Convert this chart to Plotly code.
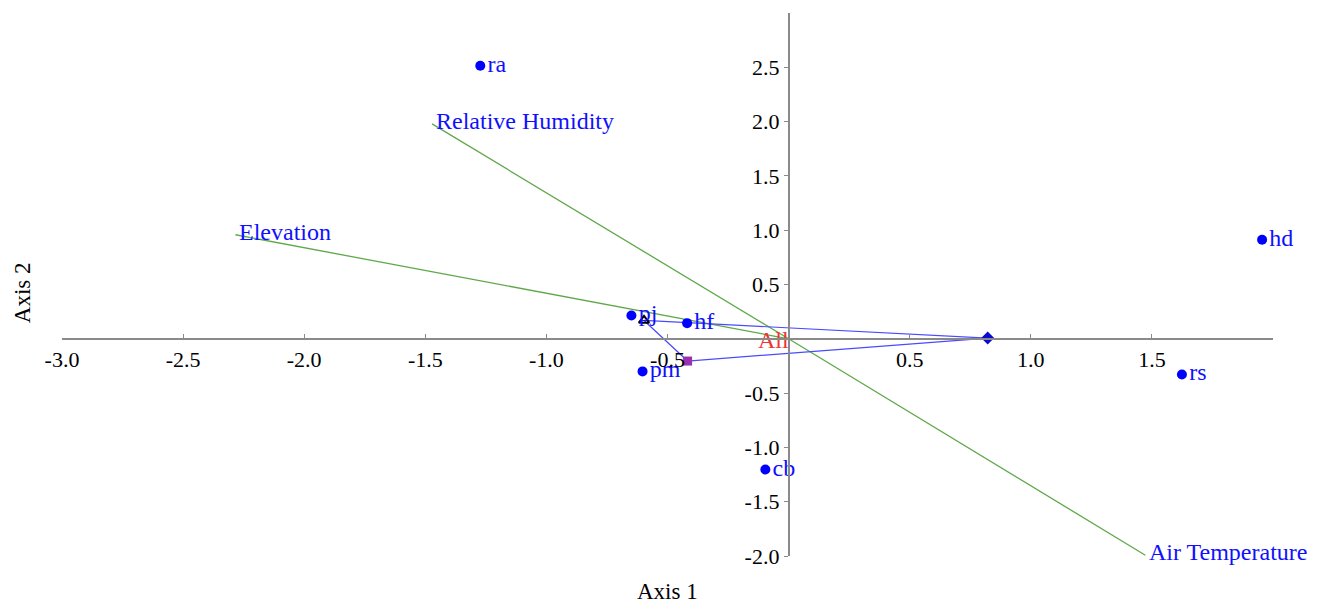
import plotly.graph_objects as go

# ---- data ----
sites = ["ra", "hd", "rs", "cb", "pm", "pj", "hf"]
site_x = [-1.273, 1.955, 1.624, -0.096, -0.603, -0.649, -0.419]
site_y = [2.515, 0.912, -0.328, -1.204, -0.300, 0.215, 0.144]

env_vars = ["Relative Humidity", "Elevation", "Air Temperature"]
env_x = [-1.472, -2.284, 1.473]
env_y = [1.979, 0.958, -1.993]

# group centroids (triangle, square, diamond)
grp_x = [-0.597, -0.417, 0.822]
grp_y = [0.169, -0.205, 0.007]

all_label = "All"
all_x = [-0.063]
all_y = [-0.03]

x_ticks = [-3.0, -2.5, -2.0, -1.5, -1.0, -0.5, 0.5, 1.0, 1.5]
y_ticks = [-2.0, -1.5, -1.0, -0.5, 0.5, 1.0, 1.5, 2.0, 2.5]
x_ticktext = ["-3.0", "-2.5", "-2.0", "-1.5", "-1.0", "-0.5", "0.5", "1.0", "1.5"]
y_ticktext = ["-2.0", "-1.5", "-1.0", "-0.5", "0.5", "1.0", "1.5", "2.0", "2.5"]
x_range = [-3.0, 2.0]
y_range = [-2.0, 3.0]

FONT = "Liberation Serif, Times New Roman, serif"
BLUE = "#1010ff"
LBL = 24

fig = go.Figure()

# environmental vectors from origin
for name, vx, vy in zip(env_vars, env_x, env_y):
    fig.add_trace(go.Scatter(x=[0, vx], y=[0, vy], mode="lines",
                             line=dict(color="#5fa84a", width=1.3),
                             hoverinfo="skip", showlegend=False))
    fig.add_annotation(x=vx, y=vy, text=name, showarrow=False,
                       xanchor="left", yanchor="middle", xshift=2, yshift=3,
                       font=dict(family=FONT, size=LBL, color=BLUE))

# group polygon: triangle -> diamond -> square -> triangle
poly_x = [grp_x[0], grp_x[2], grp_x[1], grp_x[0]]
poly_y = [grp_y[0], grp_y[2], grp_y[1], grp_y[0]]
fig.add_trace(go.Scatter(x=poly_x, y=poly_y, mode="lines",
                         line=dict(color="#4a4aff", width=1.2),
                         hoverinfo="skip", showlegend=False))

# group markers
fig.add_trace(go.Scatter(x=[grp_x[0]], y=[grp_y[0]], mode="markers",
                         marker=dict(symbol="triangle-up-open", size=9,
                                     color="black", line=dict(width=2)),
                         showlegend=False))
fig.add_trace(go.Scatter(x=[grp_x[1]], y=[grp_y[1]], mode="markers",
                         marker=dict(symbol="square", size=9, color="#9a2fb0"),
                         showlegend=False))
fig.add_trace(go.Scatter(x=[grp_x[2]], y=[grp_y[2]], mode="markers",
                         marker=dict(symbol="diamond", size=10, color="#0a0ad0"),
                         showlegend=False))

# sites
fig.add_trace(go.Scatter(x=site_x, y=site_y, mode="markers+text",
                         text=sites, textposition="middle right",
                         textfont=dict(family=FONT, size=LBL, color=BLUE),
                         marker=dict(size=10, color="#0000ff"),
                         cliponaxis=False, showlegend=False))

# "All" label
fig.add_trace(go.Scatter(x=all_x, y=all_y, mode="text", text=[all_label],
                         textfont=dict(family=FONT, size=LBL, color="#ee3333"),
                         cliponaxis=False, showlegend=False))

axis_common = dict(showgrid=False, zeroline=False, showline=True,
                   linecolor="#8a8a8a", linewidth=1.6,
                   tickcolor="#8a8a8a", ticklen=4, tickwidth=1,
                   tickfont=dict(family=FONT, size=22, color="black"),
                   anchor="free")

fig.update_layout(
    width=1328, height=603,
    margin=dict(l=62, r=55, t=13, b=47),
    plot_bgcolor="white", paper_bgcolor="white",
    xaxis=dict(range=x_range, tickvals=x_ticks, ticktext=x_ticktext,
               ticks="inside",
               position=(0 - y_range[0]) / (y_range[1] - y_range[0]),
               ticklabelstandoff=1, **axis_common),
    yaxis=dict(range=y_range, tickvals=y_ticks, ticktext=y_ticktext,
               ticks="outside",
               position=(0 - x_range[0]) / (x_range[1] - x_range[0]),
               **axis_common),
    annotations=list(fig.layout.annotations) + [
        dict(text="Axis 1", x=0.5, y=-0.066, xref="paper", yref="paper",
             showarrow=False, xanchor="center", yanchor="middle",
             font=dict(family=FONT, size=23, color="black")),
        dict(text="Axis 2", x=-0.033, y=0.484, xref="paper", yref="paper",
             showarrow=False, textangle=-90, xanchor="center", yanchor="middle",
             font=dict(family=FONT, size=23, color="black")),
    ],
)

fig.write_html("out.html", config={"displayModeBar": False},
               post_script="document.body.style.margin='0';document.body.style.padding='0';")
